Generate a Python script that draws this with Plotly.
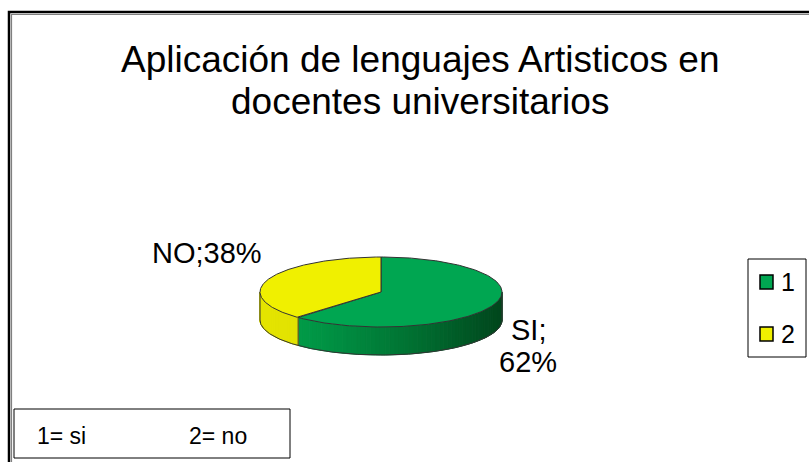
import numpy as np
import plotly.graph_objects as go

# ---- data ----
labels = ["SI", "NO"]
values = [62, 38]
legend_names = ["1", "2"]
key_text = ["1= si", "2= no"]
title_lines = ["Aplicación de lenguajes Artisticos en", "docentes universitarios"]

# ---- styling ----
top_colors = ["#00A651", "#F0F000"]
side_light = ["#00A34C", "#E4E400"]
side_dark = ["#00461C", "#D2D200"]
edge_color = "#333333"
FONT = "Liberation Sans, Arial, sans-serif"

W, H = 809, 462
CX, CY, RX, RY, DEPTH = 381, 292, 121, 35, 28   # elliptical pie geometry (px)


def ellipse(theta_deg, dy=0.0):
    t = np.radians(theta_deg)
    return CX + RX * np.cos(t), CY - RY * np.sin(t) + dy


def hex_to_rgb(h):
    h = h.lstrip("#")
    return np.array([int(h[i:i + 2], 16) for i in (0, 2, 4)], dtype=float)


def mix(c1, c2, t):
    c = hex_to_rgb(c1) * (1 - t) + hex_to_rgb(c2) * t
    return "rgb(%d,%d,%d)" % tuple(np.round(c).astype(int))


# slice angles: first slice starts at 12 o'clock and runs clockwise
total = float(sum(values))
bounds = []
a = 90.0
for v in values:
    b = a - 360.0 * v / total
    bounds.append((b, a))
    a = b

fig = go.Figure()

# ---- side walls (front half of the disc) ----
for i, (lo, hi) in enumerate(bounds):
    for k in range(-2, 2):
        s0, s1 = max(lo, -180 + 360 * k), min(hi, 360 * k)
        if s1 <= s0:
            continue
        edges = np.linspace(s0, s1, 60)
        for ea, eb in zip(edges[:-1], edges[1:]):
            th = np.linspace(ea, eb, 4)
            xt, yt = ellipse(th)
            xb, yb = ellipse(th[::-1], DEPTH)
            shade = (np.cos(np.radians((ea + eb) / 2)) + 1) / 2
            col = mix(side_light[i], side_dark[i], shade ** 1.3)
            fig.add_trace(go.Scatter(
                x=np.r_[xt, xb, xt[:1]], y=np.r_[yt, yb, yt[:1]],
                fill="toself", fillcolor=col, mode="lines",
                line=dict(color=col, width=1), hoverinfo="skip", showlegend=False))

# outline of the side walls
th = np.linspace(-180, 0, 200)
xb, yb = ellipse(th, DEPTH)
fig.add_trace(go.Scatter(x=xb, y=yb, mode="lines", line=dict(color=edge_color, width=1),
                         hoverinfo="skip", showlegend=False))
for ang in [-180, 0] + [b for (b, _) in bounds]:
    if np.sin(np.radians(ang)) <= 1e-9:
        x0, y0 = ellipse(ang)
        x1, y1 = ellipse(ang, DEPTH)
        fig.add_trace(go.Scatter(x=[x0, x1], y=[y0, y1], mode="lines",
                                 line=dict(color=edge_color, width=1),
                                 hoverinfo="skip", showlegend=False))

# ---- top faces ----
for i, (lo, hi) in enumerate(bounds):
    th = np.linspace(hi, lo, 200)
    xs, ys = ellipse(th)
    fig.add_trace(go.Scatter(
        x=np.r_[CX, xs, CX], y=np.r_[CY, ys, CY], fill="toself",
        fillcolor=top_colors[i], mode="lines", line=dict(color=edge_color, width=1),
        name=legend_names[i], hoverinfo="skip", showlegend=False))

annotations = []
shapes = []

# title
for j, (line, yc) in enumerate(zip(title_lines, [59, 101])):
    annotations.append(dict(x=420, y=yc, xref="x", yref="y", text=line, showarrow=False,
                            xanchor="center", yanchor="middle",
                            font=dict(family=FONT, size=37, color="#000000")))

# slice labels
pct = [round(100 * v / total) for v in values]
annotations.append(dict(x=528, y=330, xref="x", yref="y", text=f"{labels[0]};",
                        showarrow=False, xanchor="center", yanchor="middle",
                        font=dict(family=FONT, size=29, color="#000000")))
annotations.append(dict(x=528, y=362, xref="x", yref="y", text=f"{pct[0]}%",
                        showarrow=False, xanchor="center", yanchor="middle",
                        font=dict(family=FONT, size=29, color="#000000")))
annotations.append(dict(x=207, y=253, xref="x", yref="y", text=f"{labels[1]};{pct[1]}%",
                        showarrow=False, xanchor="center", yanchor="middle",
                        font=dict(family=FONT, size=29, color="#000000")))

# legend
shapes.append(dict(type="rect", xref="x", yref="y", x0=748, x1=806, y0=259, y1=357,
                   line=dict(color="#000000", width=1), fillcolor="rgba(0,0,0,0)"))
for i, yc in enumerate([282, 334]):
    shapes.append(dict(type="rect", xref="x", yref="y", x0=760, x1=773, y0=yc - 7, y1=yc + 7,
                       line=dict(color="#000000", width=1.5), fillcolor=top_colors[i]))
    annotations.append(dict(x=779, y=yc, xref="x", yref="y", text=legend_names[i],
                            showarrow=False, xanchor="left", yanchor="middle",
                            font=dict(family=FONT, size=25, color="#000000")))

# key box
shapes.append(dict(type="rect", xref="x", yref="y", x0=14, x1=290, y0=409, y1=458,
                   line=dict(color="#000000", width=1), fillcolor="#FFFFFF"))
for txt, xl in zip(key_text, [35, 187]):
    annotations.append(dict(x=xl, y=436, xref="x", yref="y", text=txt, showarrow=False,
                            xanchor="left", yanchor="middle",
                            font=dict(family=FONT, size=23, color="#000000")))

# outer frame
shapes.append(dict(type="rect", xref="x", yref="y", x0=9, x1=W + 20, y0=12, y1=H + 20,
                   line=dict(color="#000000", width=2.5), fillcolor="rgba(0,0,0,0)", layer="below"))
shapes.append(dict(type="rect", xref="x", yref="y", x0=11.5, x1=W + 20, y0=14.5, y1=H + 20,
                   line=dict(color="#808080", width=1.2), fillcolor="rgba(0,0,0,0)", layer="below"))

fig.update_layout(
    width=W, height=H, autosize=False,
    margin=dict(l=0, r=0, t=0, b=0, pad=0),
    paper_bgcolor="#FFFFFF", plot_bgcolor="#FFFFFF",
    xaxis=dict(range=[0, W], visible=False, fixedrange=True),
    yaxis=dict(range=[H, 0], visible=False, fixedrange=True),
    showlegend=False,
    annotations=annotations,
    shapes=shapes,
)

fig.write_html("out.html")
